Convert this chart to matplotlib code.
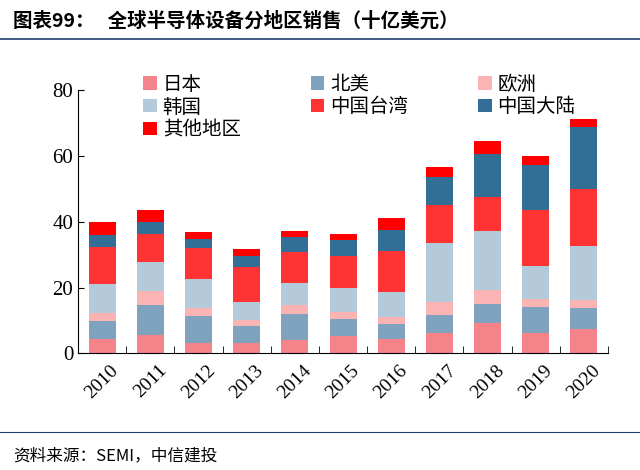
import matplotlib
matplotlib.use("Agg")
import matplotlib.pyplot as plt
import numpy as np

plt.rcParams['font.family'] = ['Liberation Serif', 'Noto Sans CJK SC']

years = ['2010','2011','2012','2013','2014','2015','2016','2017','2018','2019','2020']
regions = ['日本','北美','欧洲','韩国','中国台湾','中国大陆','其他地区']
japan  = [4.3,5.5,3.1,3.1,4.0,5.3,4.3,6.3,9.2,6.1,7.3]
na     = [5.6,9.3,8.3,5.3,8.0,5.2,4.6,5.4,5.9,8.1,6.5]
europe = [2.3,4.3,2.5,1.8,2.6,2.2,2.3,3.9,4.1,2.3,2.5]
korea  = [8.8,8.7,8.7,5.4,6.7,7.2,7.6,18.0,17.9,10.0,16.4]
taiwan = [11.3,8.6,9.5,10.7,9.5,9.7,12.3,11.5,10.3,17.2,17.3]
china  = [3.6,3.7,2.6,3.3,4.5,4.9,6.5,8.4,13.2,13.6,18.8]
other  = [3.9,3.4,2.2,2.1,2.0,1.9,3.6,3.1,4.0,2.6,2.4]
series = [japan, na, europe, korea, taiwan, china, other]
colors = ['#F4838A','#7FA3BE','#FBB4B4','#B4C9D9','#FF3333','#336E96','#FF0000']

fig = plt.figure(figsize=(6.4,4.7), dpi=100)
ax = fig.add_axes([0.122, 0.248, 0.828, 0.56])
x = np.arange(len(years))
bottom = np.zeros(len(years))
for name, vals, c in zip(regions, series, colors):
    ax.bar(x, vals, 0.56, bottom=bottom, color=c, label=name)
    bottom += np.array(vals)

ax.set_ylim(0, 80)
ax.set_yticks([0,20,40,60,80])
ax.set_xlim(-0.5, len(years)-0.5)
ax.set_xticks(x)
ax.set_xticklabels(years, rotation=45, fontsize=14)
ax.tick_params(axis='y', labelsize=15, direction='in', length=4)
ax.tick_params(axis='x', length=0, pad=6)
ax.set_xticks(np.arange(-0.5, len(years)), minor=True)
ax.tick_params(axis='x', which='minor', direction='in', length=5)
for s in ['top','right']:
    ax.spines[s].set_visible(False)
h, l = ax.get_legend_handles_labels()
order = [0,3,6,1,4,2,5]
ax.legend([h[i] for i in order], [l[i] for i in order],
          loc='upper left', bbox_to_anchor=(0.09, 1.13), ncol=3, frameon=False,
          handlelength=0.7, handleheight=0.7, handletextpad=0.3,
          columnspacing=3.6, labelspacing=0.1, prop={'family':['Noto Sans CJK SC'], 'size':14})

fig.text(0.02, 0.955, '图表99：   全球半导体设备分地区销售（十亿美元）', fontsize=14,
         fontweight='bold', family=['Noto Sans CJK SC'], va='center')
fig.add_artist(plt.Line2D([0.0,1.0],[0.918,0.918], color='#1F3F6F', lw=1.2))
fig.add_artist(plt.Line2D([0.0,1.0],[0.08,0.08], color='#1F3F6F', lw=0.8))
fig.text(0.02, 0.03, '资料来源：SEMI，中信建投', fontsize=12, style='italic',
         family=['Noto Sans CJK SC'], va='center')
fig.savefig('out.png', dpi=100)
